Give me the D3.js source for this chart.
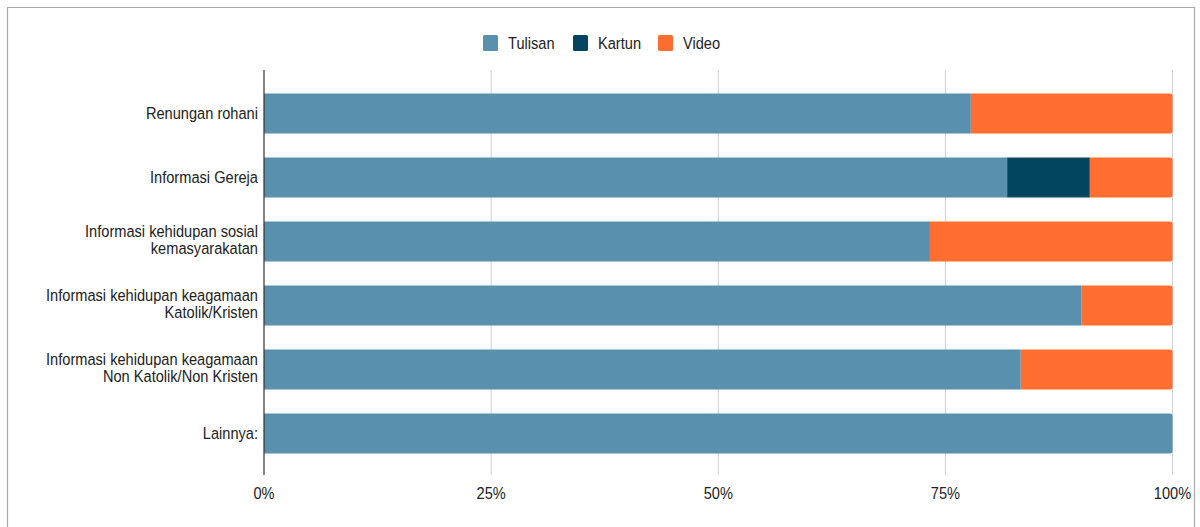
<!DOCTYPE html>
<html>
<head>
<meta charset="utf-8">
<script src="https://cdn.jsdelivr.net/npm/d3@7"></script>
<style>
  html, body { margin: 0; padding: 0; background: #fff; }
  svg { display: block; }
  text { font-family: "Liberation Sans", Arial, sans-serif; fill: #222; }
</style>
</head>
<body>
<svg id="chart" width="1200" height="527"></svg>
<script>
// Content preferences per topic (share of respondents, %)
const categories = [
  ["Renungan rohani"],
  ["Informasi Gereja"],
  ["Informasi kehidupan sosial", "kemasyarakatan"],
  ["Informasi kehidupan keagamaan", "Katolik/Kristen"],
  ["Informasi kehidupan keagamaan", "Non Katolik/Non Kristen"],
  ["Lainnya:"]
];
const seriesNames = ["Tulisan", "Kartun", "Video"];
const tulisan = [77.8, 81.8, 73.3, 90.0, 83.3, 100];
const kartun  = [0,    9.1,  0,    0,    0,    0];
const video   = [22.2, 9.1,  26.7, 10.0, 16.7, 0];
const tickValues = [0, 25, 50, 75, 100];
const tickLabels = ["0%", "25%", "50%", "75%", "100%"];

const colors = ["#5890ad", "#01455f", "#ff6e31"];
const seriesValues = [tulisan, kartun, video];

const svg = d3.select("#chart");
const FS = 17, SX = 0.86;   // narrow-looking label type

// frame
svg.append("path")
  .attr("d", "M7.5,527 V7.5 H1194.5 V527")
  .attr("fill", "none").attr("stroke", "#aaa").attr("stroke-width", 1.2);

const x = d3.scaleLinear().domain([0, 100]).range([264, 1172.5]);
const keys = categories.map(c => c.join(" "));
const y = d3.scaleBand().domain(keys).range([81.5, 465.5])
  .paddingInner(0.375).paddingOuter(0.1875);

const plotTop = 70, plotBottom = 475;

// gridlines
svg.append("g").selectAll("line")
  .data(tickValues.filter(v => v > 0))
  .join("line")
  .attr("x1", d => x(d)).attr("x2", d => x(d))
  .attr("y1", plotTop).attr("y2", plotBottom)
  .attr("stroke", "#d0d0d0").attr("stroke-width", 1);

// stacked rows
const rows = keys.map((k, i) => {
  let acc = 0;
  const segs = seriesValues.map((vals, s) => {
    const seg = { s, x0: acc, x1: acc + vals[i] };
    acc += vals[i];
    return seg;
  }).filter(d => d.x1 > d.x0);
  return { key: k, segs };
});

const gBars = svg.append("g");
rows.forEach(row => {
  const y0 = y(row.key), h = y.bandwidth();
  row.segs.forEach((seg, j) => {
    const xa = x(seg.x0), xb = x(seg.x1);
    const last = j === row.segs.length - 1;
    const r = 2.5;
    let d;
    if (last) {
      d = `M${xa},${y0} H${xb - r} Q${xb},${y0} ${xb},${y0 + r} V${y0 + h - r} Q${xb},${y0 + h} ${xb - r},${y0 + h} H${xa} Z`;
    } else {
      d = `M${xa},${y0} H${xb} V${y0 + h} H${xa} Z`;
    }
    gBars.append("path").attr("d", d).attr("fill", colors[seg.s]);
  });
});

// vertical axis line at 0
svg.append("line")
  .attr("x1", x(0)).attr("x2", x(0))
  .attr("y1", plotTop).attr("y2", plotBottom)
  .attr("stroke", "#333").attr("stroke-width", 1.2);

function label(g, tx, ty, str, anchor) {
  g.append("text")
    .attr("transform", `translate(${tx},${ty}) scale(${SX},1)`)
    .attr("text-anchor", anchor)
    .attr("font-size", FS)
    .text(str);
}

// category labels
const gY = svg.append("g");
categories.forEach((lines, i) => {
  const cy = y(keys[i]) + y.bandwidth() / 2;
  const lh = 16.6;
  const first = cy + 5.5 - (lines.length - 1) * lh / 2 - (lines.length > 1 ? 1.5 : 0);
  lines.forEach((ln, j) => label(gY, 258, first + j * lh, ln, "end"));
});

// x tick labels
const gX = svg.append("g");
tickValues.forEach((v, i) => label(gX, x(v), 499, tickLabels[i], "middle"));

// legend
const legendX = [483, 573, 658];
const gL = svg.append("g");
seriesNames.forEach((name, i) => {
  gL.append("rect")
    .attr("x", legendX[i]).attr("y", 35).attr("width", 15).attr("height", 16)
    .attr("rx", 1.5).attr("fill", colors[i]);
  label(gL, legendX[i] + 25, 49, name, "start");
});
</script>
</body>
</html>
